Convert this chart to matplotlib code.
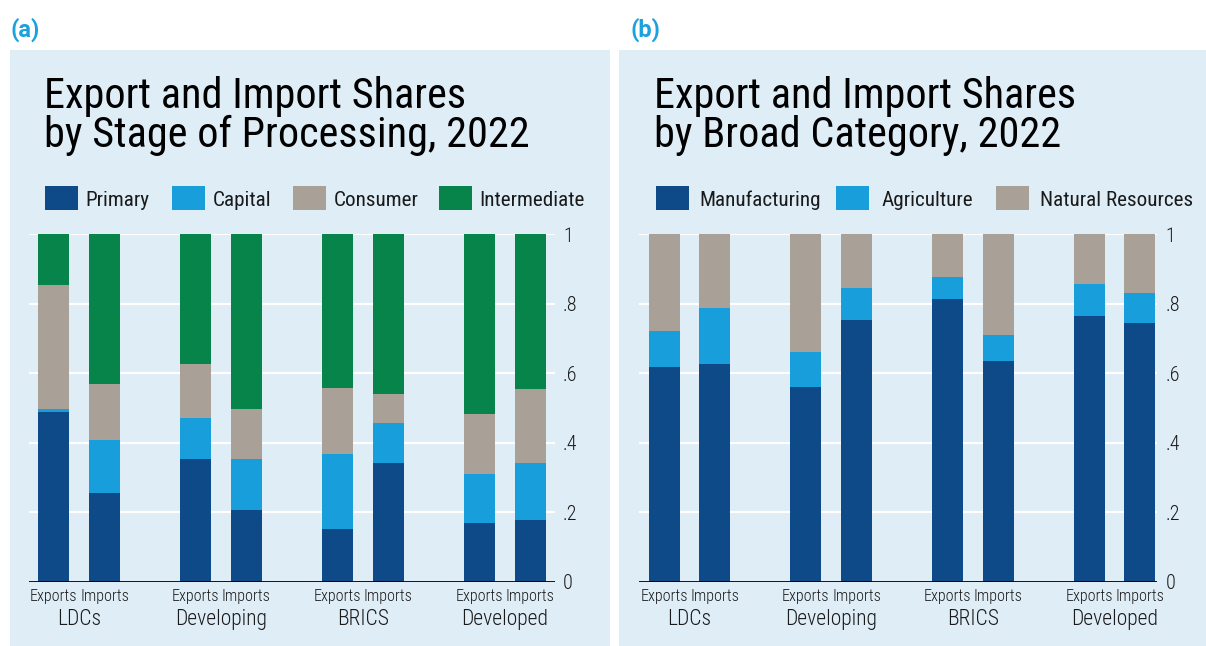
import matplotlib
matplotlib.use("Agg")
import matplotlib.pyplot as plt
from matplotlib.patches import Rectangle
from matplotlib.transforms import blended_transform_factory

W, H = 1206, 646

groups = ["LDCs", "Developing", "BRICS", "Developed"]
flows = ["Exports", "Imports"]

# (a) stage of processing, bars ordered LDCs Exp, LDCs Imp, Developing Exp, ...
stage_names = ["Primary", "Capital", "Consumer", "Intermediate"]
stage_primary = [0.489, 0.254, 0.353, 0.206, 0.151, 0.342, 0.170, 0.178]
stage_capital = [0.007, 0.154, 0.117, 0.147, 0.217, 0.114, 0.140, 0.163]
stage_consumer = [0.357, 0.161, 0.157, 0.143, 0.190, 0.085, 0.173, 0.214]
stage_intermediate = [0.147, 0.431, 0.373, 0.504, 0.442, 0.459, 0.517, 0.445]

# (b) broad category
broad_names = ["Manufacturing", "Agriculture", "Natural Resources"]
broad_manuf = [0.618, 0.627, 0.560, 0.753, 0.815, 0.635, 0.765, 0.744]
broad_agri = [0.104, 0.162, 0.101, 0.093, 0.062, 0.076, 0.091, 0.086]
broad_natres = [0.278, 0.211, 0.339, 0.154, 0.123, 0.289, 0.144, 0.170]

ytick_vals = [0, 0.2, 0.4, 0.6, 0.8, 1]
ytick_labels = ["0", ".2", ".4", ".6", ".8", "1"]

c_dark = "#0d4a87"
c_light = "#189fdb"
c_grey = "#a9a097"
c_green = "#07844a"
bg = "#dfedf7"
FONT = "Roboto Condensed"

plt.rcParams["font.family"] = FONT


def fx(px):
    return px / W


def fy(py):
    return 1 - py / H


fig = plt.figure(figsize=(W / 100, H / 100), dpi=100)
fig.patches.append(Rectangle((fx(10), 0), fx(600), fy(49.5), transform=fig.transFigure,
                             facecolor=bg, edgecolor="none", zorder=-5))
fig.patches.append(Rectangle((fx(619), 0), fx(W - 619), fy(49.5), transform=fig.transFigure,
                             facecolor=bg, edgecolor="none", zorder=-5))

positions = [g * 2.8 + k for g in range(len(groups)) for k in range(len(flows))]
centers = [g * 2.8 + 0.5 for g in range(len(groups))]


def draw_panel(left_px, right_px, xlim, series, names, colors, title, tag, tag_x, title_x, legend_x):
    ax = fig.add_axes([fx(left_px), fy(581.7), fx(right_px - left_px), (581.7 - 234.3) / H])
    ax.set_facecolor("none")
    bottom = [0.0] * len(positions)
    for vals, name, col in zip(series, names, colors):
        ax.bar(positions, vals, width=0.61, bottom=bottom, color=col, label=name,
               edgecolor="none", zorder=2)
        bottom = [b + v for b, v in zip(bottom, vals)]
    ax.set_xlim(*xlim)
    ax.set_ylim(0, 1)
    for s in ax.spines.values():
        s.set_visible(False)
    ax.set_axisbelow(True)
    ax.grid(axis="y", color="white", linewidth=1.6)
    ax.axhline(0, color="black", linewidth=1.3, zorder=3)
    ax.yaxis.tick_right()
    ax.set_yticks(ytick_vals, ytick_labels)
    ax.tick_params(axis="y", length=0, pad=6, labelsize=14.5, labelcolor="#1a1a1a")
    ax.set_xticks(positions, flows * len(groups))
    ax.tick_params(axis="x", length=0, pad=5, labelsize=11.6, labelcolor="#1a1a1a")
    for lab in ax.get_xticklabels() + ax.get_yticklabels():
        lab.set_fontweight(300)
    tr = blended_transform_factory(ax.transData, ax.transAxes)
    for c, g in zip(centers, groups):
        ax.text(c, -0.126, g, transform=tr, ha="center", va="baseline", fontsize=15.5,
                fontweight=300, color="#1a1a1a")

    fig.text(fx(tag_x), fy(30), tag, fontsize=17, fontweight="bold", color="#1ba1dc",
             family="Roboto", va="center", ha="left")
    fig.text(fx(title_x), fy(146.7), title, fontsize=30.4, color="black",
             va="baseline", ha="left", linespacing=0.93)
    for (sx, tx), name, col in zip(legend_x, names, colors):
        fig.patches.append(Rectangle((fx(sx), fy(210)), fx(33), 24 / H, transform=fig.transFigure,
                                     facecolor=col, edgecolor="none", zorder=1))
        fig.text(fx(tx), fy(198), name, fontsize=15.2, color="#1a1a1a", va="center_baseline",
                 ha="left")
    return ax


draw_panel(29.2, 554.6, (-0.485, 9.88),
           [stage_primary, stage_capital, stage_consumer, stage_intermediate],
           stage_names, [c_dark, c_light, c_grey, c_green],
           "Export and Import Shares\nby Stage of Processing, 2022", "(a)", 10, 44,
           [(45, 85.6), (172, 213), (293, 334), (438.5, 479.4)])

draw_panel(639.4, 1157, (-0.49, 9.74),
           [broad_manuf, broad_agri, broad_natres],
           broad_names, [c_dark, c_light, c_grey],
           "Export and Import Shares\nby Broad Category, 2022", "(b)", 630.5, 654.4,
           [(656, 699.2), (836, 881.6), (996, 1040)])

fig.savefig("out.png", dpi=100)
